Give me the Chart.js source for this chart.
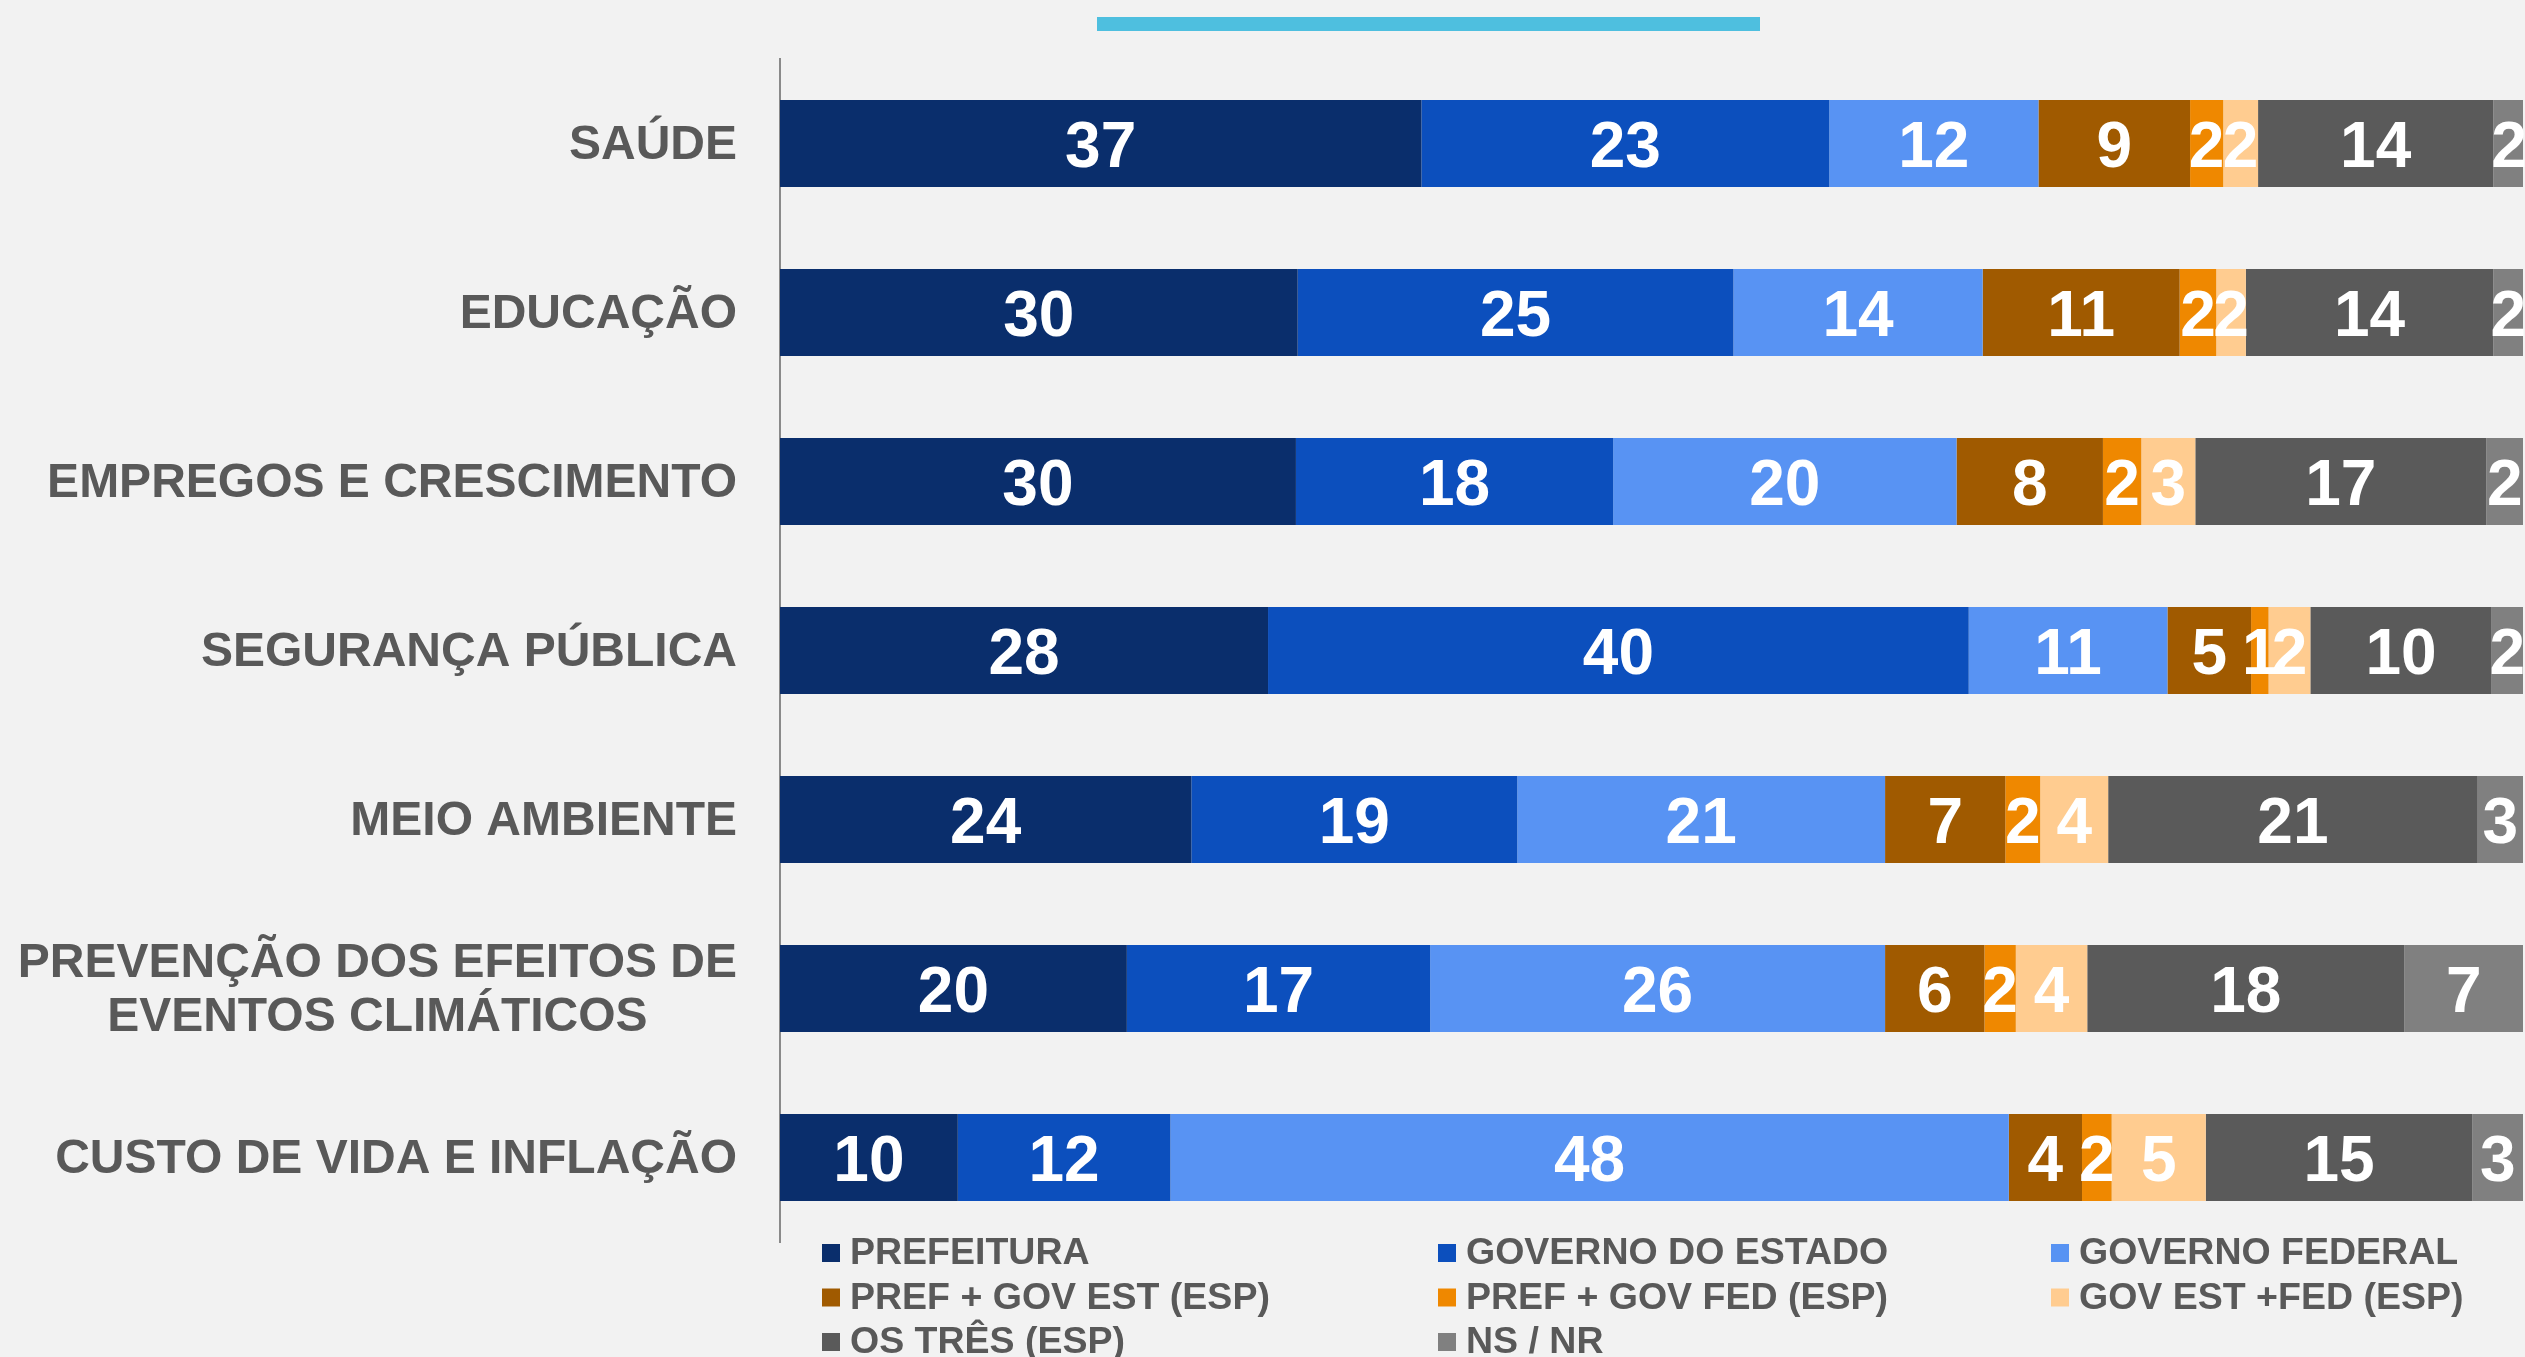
<!DOCTYPE html>
<html>
<head>
<meta charset="utf-8">
<script src="https://cdn.jsdelivr.net/npm/chart.js@4.4.1/dist/chart.umd.min.js"></script>
<style>
  html, body { margin: 0; padding: 0; background: #f2f2f2; overflow: hidden; }
  #wrap { position: relative; width: 2525px; height: 1357px; }
  #topLine { position: absolute; left: 1097px; top: 17px; width: 663px; height: 14px; background: #4ebfdf; }
</style>
</head>
<body>
<div id="wrap">
  <div id="topLine"></div>
  <canvas id="barChart"></canvas>
</div>
<script>
// areas (rows of the chart)
const categories = [
    'SAÚDE',
    'EDUCAÇÃO',
    'EMPREGOS E CRESCIMENTO',
    'SEGURANÇA PÚBLICA',
    'MEIO AMBIENTE',
    ['PREVENÇÃO DOS EFEITOS DE', 'EVENTOS CLIMÁTICOS'],
    'CUSTO DE VIDA E INFLAÇÃO'
];

// who is responsible (%), one array per answer
const prefeitura     = [36.8, 29.7, 29.6, 28.0, 23.6, 19.9, 10.2];
const governoEstado  = [23.4, 25.0, 18.2, 40.2, 18.7, 17.4, 12.2];
const governoFederal = [12.0, 14.3, 19.7, 11.4, 21.1, 26.1, 48.1];
const prefGovEst     = [8.7, 11.3, 8.4, 4.8, 6.9, 5.7, 4.2];
const prefGovFed     = [1.9, 2.1, 2.2, 1.0, 2.0, 1.8, 1.7];
const govEstFed      = [2.0, 1.7, 3.1, 2.4, 3.9, 4.1, 5.4];
const osTres         = [13.5, 14.2, 16.7, 10.4, 21.2, 18.2, 15.3];
const nsNr           = [1.8, 1.7, 2.1, 1.8, 2.6, 6.8, 2.9];

const seriesNames = [
    'PREFEITURA', 'GOVERNO DO ESTADO', 'GOVERNO FEDERAL',
    'PREF + GOV EST (ESP)', 'PREF + GOV FED (ESP)', 'GOV EST +FED (ESP)',
    'OS TRÊS (ESP)', 'NS / NR'
];
const seriesValues = [prefeitura, governoEstado, governoFederal, prefGovEst, prefGovFed, govEstFed, osTres, nsNr];
const seriesColors = ['#0a2e6c', '#0c4fbd', '#5893f3', '#a05a00', '#ef8800', '#ffcc90', '#5a5a5a', '#808080'];

const FONT = '"Liberation Sans", Arial, sans-serif';
const TEXT_GREY = '#595959';

// value labels inside the segments
const valueLabels = {
    id: 'valueLabels',
    afterDatasetsDraw(chart) {
        const ctx = chart.ctx;
        ctx.save();
        ctx.font = `bold 64px ${FONT}`;
        ctx.fillStyle = '#ffffff';
        ctx.textAlign = 'center';
        ctx.textBaseline = 'middle';
        chart.data.datasets.forEach((ds, i) => {
            chart.getDatasetMeta(i).data.forEach((bar, j) => {
                const x = (bar.x + bar.base) / 2;
                ctx.fillText(Math.round(ds.data[j]), x, bar.y + 6);
            });
        });
        ctx.restore();
    }
};

// category labels, right aligned, multi-line ones centred on themselves
const categoryLabels = {
    id: 'categoryLabels',
    afterDraw(chart) {
        const ctx = chart.ctx;
        const yScale = chart.scales.y;
        const right = 737;
        const lineH = 54;
        ctx.save();
        ctx.font = `bold 48px ${FONT}`;
        ctx.fillStyle = TEXT_GREY;
        ctx.textAlign = 'center';
        ctx.textBaseline = 'middle';
        categories.forEach((cat, i) => {
            const lines = Array.isArray(cat) ? cat : [cat];
            const w = Math.max(...lines.map(l => ctx.measureText(l).width));
            const cx = right - w / 2;
            const cy = yScale.getPixelForValue(i);
            lines.forEach((l, k) => {
                ctx.fillText(l, cx, cy + (k - (lines.length - 1) / 2) * lineH + 2);
            });
        });
        ctx.restore();
    }
};

// legend in three fixed columns
const gridLegend = {
    id: 'gridLegend',
    afterDraw(chart) {
        const ctx = chart.ctx;
        const cols = [822, 1438, 2051];
        const rows = [1253, 1297.5, 1342];
        const box = 18;
        ctx.save();
        ctx.font = `bold 37.5px ${FONT}`;
        ctx.textBaseline = 'middle';
        ctx.textAlign = 'left';
        chart.data.datasets.forEach((ds, i) => {
            const x = cols[i % 3];
            const y = rows[Math.floor(i / 3)];
            ctx.fillStyle = ds.backgroundColor;
            ctx.fillRect(x, y - box / 2, box, box);
            ctx.fillStyle = TEXT_GREY;
            ctx.fillText(ds.label, x + box + 10, y + 1);
        });
        ctx.restore();
    }
};

const canvas = document.getElementById('barChart');
canvas.width = 2525;
canvas.height = 1357;

new Chart(canvas.getContext('2d'), {
    type: 'bar',
    data: {
        labels: categories,
        datasets: seriesValues.map((vals, i) => ({
            label: seriesNames[i],
            data: vals,
            backgroundColor: seriesColors[i],
            borderWidth: 0,
            categoryPercentage: 1,
            barPercentage: 0.515
        }))
    },
    options: {
        indexAxis: 'y',
        responsive: false,
        animation: false,
        layout: {
            padding: { left: 780, right: 2, top: 59, bottom: 115 }
        },
        scales: {
            x: {
                stacked: true,
                min: 0,
                max: 100,
                display: false
            },
            y: {
                stacked: true,
                ticks: { display: false },
                grid: { display: false, drawTicks: false },
                border: { display: true, color: '#8a8a8a', width: 2 }
            }
        },
        plugins: {
            legend: { display: false },
            tooltip: {
                callbacks: {
                    label: (item) => `${item.dataset.label}: ${Math.round(item.raw)}%`
                }
            }
        }
    },
    plugins: [valueLabels, categoryLabels, gridLegend]
});
</script>
</body>
</html>
